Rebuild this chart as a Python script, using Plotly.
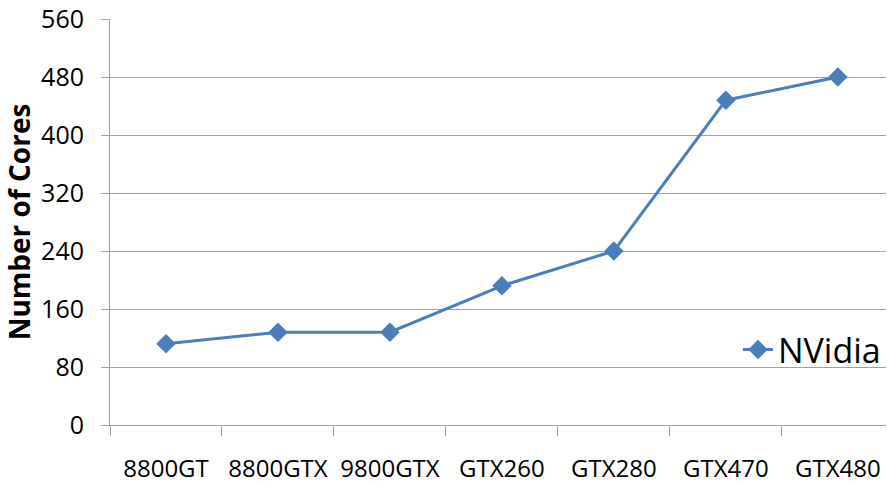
import plotly.graph_objects as go

# GPU models and their CUDA core counts
gpus = ["8800GT", "8800GTX", "9800GTX", "GTX260", "GTX280", "GTX470", "GTX480"]
cores = [112, 128, 128, 192, 240, 448, 480]

y_ticks = [0, 80, 160, 240, 320, 400, 480, 560]

blue = "#4A7EBB"
grid = "#A0A0A0"
font_family = "Open Sans, Liberation Sans, sans-serif"

fig = go.Figure()
fig.add_trace(go.Scatter(
    x=gpus,
    y=cores,
    mode="lines+markers",
    name="NVidia",
    line=dict(color=blue, width=3),
    marker=dict(symbol="diamond", size=15, color=blue),
))

fig.update_layout(
    width=887,
    height=486,
    margin=dict(l=110, r=1, t=19, b=61, autoexpand=False),
    paper_bgcolor="white",
    plot_bgcolor="white",
    font=dict(family=font_family, color="#000000"),
    showlegend=True,
    legend=dict(
        x=1.0, xanchor="right",
        y=0.185, yanchor="middle",
        bgcolor="rgba(0,0,0,0)",
        font=dict(size=34, family=font_family),
        itemwidth=30,
    ),
    xaxis=dict(
        type="category",
        range=[-0.5, 6.43],
        tickson="boundaries",
        ticks="outside",
        ticklen=10,
        tickcolor=grid,
        showline=True,
        linecolor=grid,
        linewidth=1,
        showgrid=False,
        tickangle=0,
        automargin=False,
        tickfont=dict(size=24),
        ticklabelstandoff=22,
        zeroline=False,
    ),
    yaxis=dict(
        range=[0, 560],
        tickvals=y_ticks,
        ticks="outside",
        ticklen=8,
        tickcolor=grid,
        showline=True,
        linecolor=grid,
        linewidth=1,
        showgrid=True,
        gridcolor=grid,
        gridwidth=1,
        zeroline=False,
        automargin=False,
        tickfont=dict(size=25),
        ticklabelstandoff=12,
        title=dict(
            text="<b>Number of Cores</b>",
            font=dict(size=28),
            standoff=10,
        ),
    ),
)

fig.write_html("out.html")
